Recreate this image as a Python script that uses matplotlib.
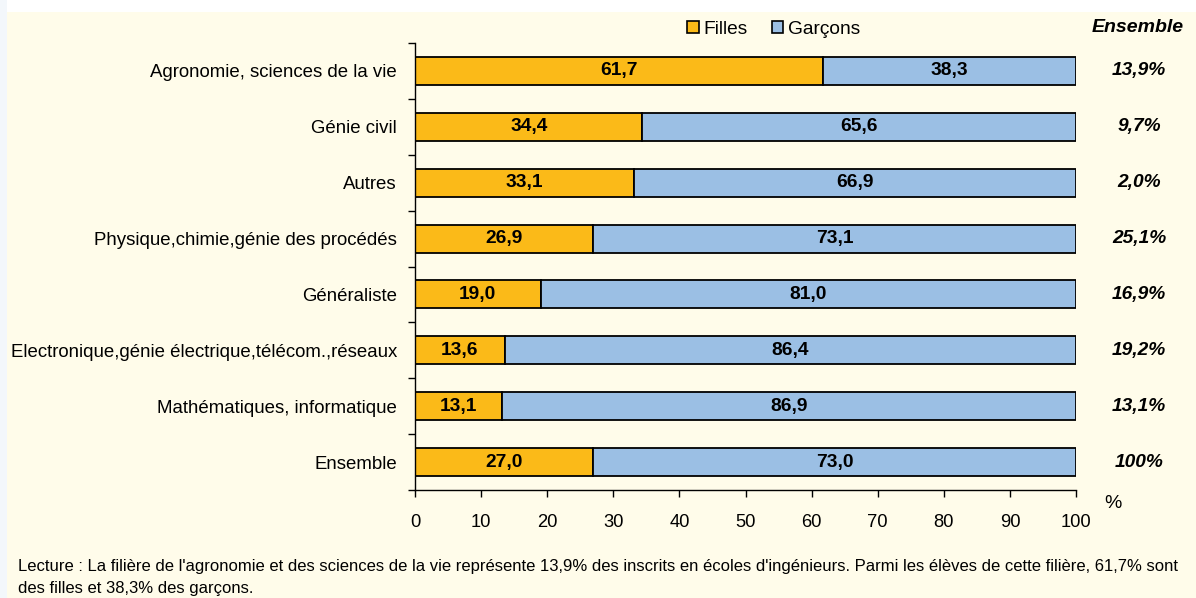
import matplotlib
matplotlib.use('Agg')
import matplotlib.pyplot as plt
from matplotlib.patches import Rectangle, Patch
import numpy as np

plt.rcParams['font.family'] = ['Liberation Sans', 'DejaVu Sans']

# --- data ---
categories = ['Agronomie, sciences de la vie', 'Génie civil', 'Autres',
              'Physique,chimie,génie des procédés', 'Généraliste',
              'Electronique,génie électrique,télécom.,réseaux',
              'Mathématiques, informatique', 'Ensemble']
filles = [61.7, 34.4, 33.1, 26.9, 19.0, 13.6, 13.1, 27.0]
garcons = [38.3, 65.6, 66.9, 73.1, 81.0, 86.4, 86.9, 73.0]
ensemble = ['13,9%', '9,7%', '2,0%', '25,1%', '16,9%', '19,2%', '13,1%', '100%']
xticks = [0, 10, 20, 30, 40, 50, 60, 70, 80, 90, 100]

# --- colours ---
BG = '#FFFCEA'
STRIP = '#F3F7FB'
FILLES_COL = '#FBBA18'
GARCONS_COL = '#9BBFE4'

fig = plt.figure(figsize=(11.96, 5.98), dpi=100)
fig.patch.set_facecolor('white')
fig.patches.append(Rectangle((0, 0), 7 / 1196, 1, transform=fig.transFigure,
                             facecolor=STRIP, edgecolor='none', zorder=-2))
fig.patches.append(Rectangle((7 / 1196, 0), 1, 1 - 12 / 598, transform=fig.transFigure,
                             facecolor=BG, edgecolor='none', zorder=-1))

ax = fig.add_axes([415 / 1196, 1 - 490 / 598, 661 / 1196, 447 / 598])
ax.set_facecolor('none')

y = np.arange(len(categories))
ax.barh(y, filles, height=0.5, color=FILLES_COL, edgecolor='black', linewidth=1.3)
ax.barh(y, garcons, left=filles, height=0.5, color=GARCONS_COL, edgecolor='black', linewidth=1.3)

for i in range(len(categories)):
    ax.text(filles[i] / 2, y[i], f'{filles[i]:.1f}'.replace('.', ','),
            ha='center', va='center', fontsize=13.8, fontweight='bold')
    ax.text(filles[i] + garcons[i] / 2, y[i], f'{garcons[i]:.1f}'.replace('.', ','),
            ha='center', va='center', fontsize=13.8, fontweight='bold')

ax.set_xlim(0, 100)
ax.set_ylim(len(categories) - 0.5, -0.5)

# y axis: ticks at boundaries, labels at centres
ax.set_yticks(np.arange(-0.5, len(categories)), labels=[])
ax.set_yticks(y, labels=categories, minor=True)
ax.tick_params(axis='y', which='major', length=5, width=1, direction='out')
ax.tick_params(axis='y', which='minor', length=0, pad=13, labelsize=13.4)

ax.set_xticks(xticks)
ax.tick_params(axis='x', length=5, width=1, direction='out', pad=12.5, labelsize=13.2)

for s in ['top', 'right']:
    ax.spines[s].set_visible(False)
ax.spines['left'].set_linewidth(1)
ax.spines['bottom'].set_linewidth(1)

# Ensemble column
for i in range(len(categories)):
    ax.text(1139 / 1196, 1 - (71 + 55.86 * i) / 598, ensemble[i], transform=fig.transFigure,
            ha='center', va='center', fontsize=13.8, fontweight='bold', style='italic')
fig.text(1184 / 1196, 1 - 28 / 598, 'Ensemble', ha='right', va='center',
         fontsize=14, fontweight='bold', style='italic')

fig.text(1113 / 1196, 1 - 504 / 598, '%', ha='center', va='center', fontsize=14)

# legend
handles = [Patch(facecolor=FILLES_COL, edgecolor='black', linewidth=1.2, label='Filles'),
           Patch(facecolor=GARCONS_COL, edgecolor='black', linewidth=1.2, label='Garçons')]
fig.legend(handles=handles, loc='center', bbox_to_anchor=(774 / 1196, 1 - 29 / 598),
           ncol=2, frameon=False, fontsize=13.8, handlelength=0.6, handleheight=0.6,
           handletextpad=0.25, columnspacing=1.25, borderpad=0)

fig.text(18 / 1196, 1 - 566 / 598,
         "Lecture : La filière de l'agronomie et des sciences de la vie représente 13,9% des inscrits "
         "en écoles d'ingénieurs. Parmi les élèves de cette filière, 61,7% sont",
         ha='left', va='center', fontsize=12)
fig.text(18 / 1196, 1 - 589 / 598, 'des filles et 38,3% des garçons.',
         ha='left', va='center', fontsize=12)

fig.savefig('out.png', dpi=100, facecolor=fig.get_facecolor())
